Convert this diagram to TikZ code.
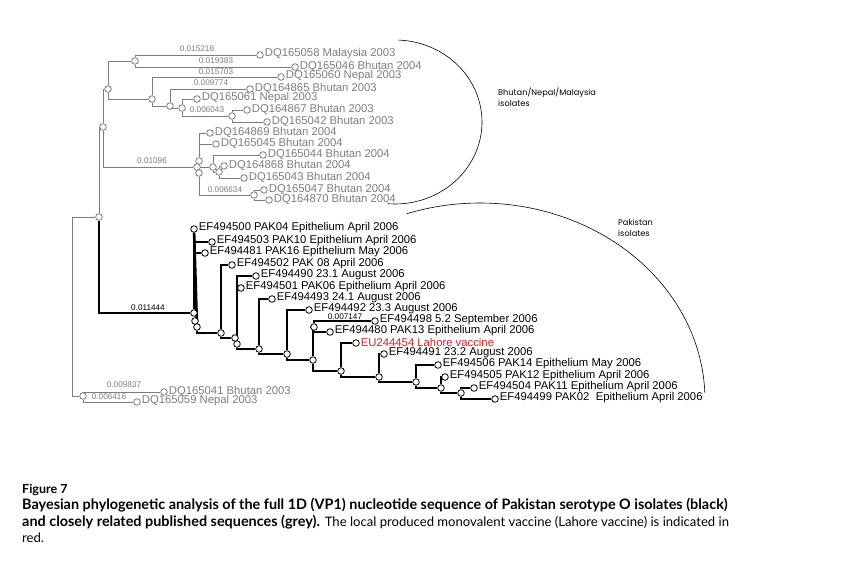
\documentclass[tikz,border=0pt]{standalone}
\usepackage{fontspec}
\setmainfont{Liberation Sans}
\newfontfamily\capfont{Lato}
\newfontfamily\arcfont{Poppins}
\usetikzlibrary{backgrounds}
\definecolor{treegrey}{RGB}{125,125,125}
\definecolor{vacred}{RGB}{205,35,35}
\newcommand\tipsize{\fontsize{11.3}{13}\selectfont}
\newcommand\capreg{\fontsize{13.1}{16.5}\selectfont}
\tikzset{
  nd/.style={circle,draw,fill=white,inner sep=0pt,minimum size=6.6pt,line width=0.8pt},
  gnd/.style={nd,draw=treegrey},
  tiplab/.style={font=\tipsize,inner sep=0pt,yshift=1pt,xshift=1pt},
  br/.style={line width=1.3pt},
  gbr/.style={draw=treegrey,line width=0.9pt},
  blen/.style={font=\fontsize{8.2}{9}\selectfont,inner sep=0pt},
  arclab/.style={font=\arcfont\fontsize{8.2}{11}\selectfont,align=left,inner sep=0pt,anchor=north west},
  arcline/.style={line width=0.6pt},
}

\begin{document}
\begin{tikzpicture}[x=1pt,y=-1pt]
  \useasboundingbox (0,0) rectangle (848,567);
  \coordinate (root) at (72,306);

  % grey clades, internal nodes
  \foreach \n/\x/\y in {n1/99/217,n2/103/127,n3/108/89,n4/135/61,n5/152/99,n6/170/106,
      n7/182/108,n8/232/116,n10a/199/161,n10/197/167,n10b/199/173,n11/213/167,
      n12/219/172,n13/254/195,n16/83/396}
    \node[gnd] (\n) at (\x,\y) {};
  % grey tips
  \foreach \n/\x/\y/\t in {g1/260/55/DQ165058 Malaysia 2003,g2/295/67/DQ165046 Bhutan 2004,
      g3/281/77/DQ165060 Nepal 2003,g4/250/89/DQ164865 Bhutan 2003,
      g5/197/99/DQ165061 Nepal 2003,g6/247/110/DQ164867 Bhutan 2003,
      g7/267/122/DQ165042 Bhutan 2003,g8/210/133/DQ164869 Bhutan 2004,
      g9/216/144/DQ165045 Bhutan 2004,g10/263/155/DQ165044 Bhutan 2004,
      g11/224/166/DQ164868 Bhutan 2004,g12/244/178/DQ165043 Bhutan 2004,
      g13/264/190/DQ165047 Bhutan 2004,g14/269/200/DQ164870 Bhutan 2004,
      g15/164/392/DQ165041 Bhutan 2003,g16/137/402/DQ165059 Nepal 2003}
    \node[gnd,label={[tiplab,text=treegrey]right:\t}] (\n) at (\x,\y) {};

  % Pakistan clade, internal nodes
  \foreach \n/\x/\y in {p0/194/313,pa/195/321,pb/197/327,p1/221/333,p2a/235/338,p2/237/344,
      p3/259/349,p4/287/354,p5/313/360,q/314/327,p6/341/371,p7/379/377,
      p8/416/382,p9/441/388,p10/461/393}
    \node[nd] (\n) at (\x,\y) {};
  % Pakistan tips
  \foreach \n/\x/\y/\t in {k1/194/229/EF494500 PAK04 Epithelium April 2006,
      k2/212/242/EF494503 PAK10 Epithelium April 2006,
      k3/205/253/EF494481 PAK16 Epithelium May 2006,
      k4/232/265/EF494502 PAK 08 April 2006,
      k5/256/276/EF494490 23.1 August 2006,
      k6/241/288/EF494501 PAK06 Epithelium April 2006,
      k7/272/299/EF494493 24.1 August 2006,
      k8/309/310/EF494492 23.3 August 2006,
      k9/375/321/EF494498 5.2 September 2006,
      k10/330/332/EF494480 PAK13 Epithelium April 2006,
      k12/384/354/EF494491 23.2 August 2006,
      k13/438/365/EF494506 PAK14 Epithelium May 2006,
      k14/445/377/EF494505 PAK12 Epithelium April 2006,
      k15/474/388/EF494504 PAK11 Epithelium April 2006,
      k16/495/399/EF494499 PAK02\ \ Epithelium April 2006}
    \node[nd,label={[tiplab]right:\t}] (\n) at (\x,\y) {};
  \node[nd,label={[tiplab,text=vacred]right:EU244454 Lahore vaccine}] (k11) at (356,343) {};

  \begin{scope}[on background layer]
    \foreach \a/\b in {root/n1,root/n16,n1/n2,n2/n3,n2/n10,n3/n4,n3/n5,n4/g1,n4/g2,
        n5/g3,n5/n6,n6/g4,n6/n7,n7/g5,n7/n8,n8/g6,n8/g7,n10a/g8,n10a/g9,n10/n11,
        n10b/n13,n11/g10,n11/n12,n12/g11,n12/g12,n13/g13,n13/g14,n16/g15,n16/g16}
      \draw[gbr] (\a) |- (\b);
    \draw[line width=2.6pt] (k1) -- (pb);
    \foreach \a/\b in {n1/p0,p0/k2,p0/k3,pb/p1,p1/k4,p1/p2a,p2/k5,p2/k6,p2/p3,
        p3/k7,p3/p4,p4/k8,p4/p5,p5/q,q/k9,q/k10,p5/p6,p6/k11,p6/p7,p7/k12,p7/p8,
        p8/k13,p8/p9,p9/k14,p9/p10,p10/k15,p10/k16}
      \draw[br] (\a) |- (\b);
  \end{scope}

  % branch lengths
  \begin{scope}[treegrey]
    \node[blen] (l1) at (197,49) {0.015218};
    \node[blen] (l2) at (216,61) {0.019383};
    \node[blen] (l3) at (216,72) {0.015703};
    \node[blen] (l4) at (211,83) {0.009774};
    \node[blen] (l5) at (207,110) {0.006043};
    \node[blen] (l6) at (152,161) {0.01096};
    \node[blen] (l7) at (225,190) {0.006634};
    \node[blen] (l8) at (124,385) {0.009837};
    \node[blen] (l9) at (109,397) {0.006416};
  \end{scope}
  \node[blen] (l10) at (148,308) {0.011444};
  \node[blen] (l11) at (345,317) {0.007147};

  % group brackets
  \draw[arcline] plot[domain=-88:95,samples=70] ({395+87*cos(\x)},{122+82*sin(\x)});
  \draw[arcline] plot[domain=-109:-2,samples=90] ({480+225*cos(\x)},{400+197*sin(\x)});
  \node[arclab] (bnm) at (498,88) {Bhutan/Nepal/Malaysia\\isolates};
  \node[arclab] (pak) at (618,219) {Pakistan\\isolates};

  % caption
  \node[anchor=north west,inner sep=0pt,font=\capfont\fontsize{12.5}{16.5}\selectfont\bfseries] (fig) at (22,484) {Figure 7};
  \node[anchor=north west,inner sep=0pt,align=left,font=\capfont\fontsize{14.4}{16.5}\selectfont] (cap) at (22,498)
    {\textbf{Bayesian phylogenetic analysis of the full 1D (VP1) nucleotide sequence of Pakistan serotype O isolates (black)}\\
     \textbf{and closely related published sequences (grey).} {\capreg The local produced monovalent vaccine (Lahore vaccine) is indicated in}\\
     {\capreg red.}};
\end{tikzpicture}
\end{document}
